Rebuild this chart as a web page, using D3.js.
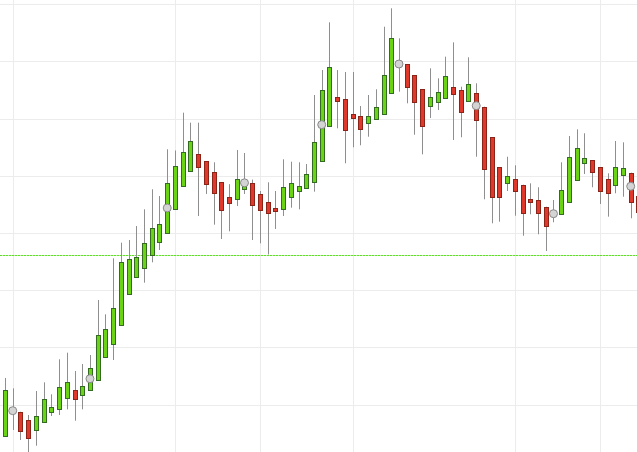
<!DOCTYPE html>
<html>
<head>
<meta charset="utf-8">
<script src="https://cdn.jsdelivr.net/npm/d3@7/dist/d3.min.js"></script>
<style>
  html, body { margin: 0; padding: 0; background: #ffffff; }
  svg { display: block; }
</style>
</head>
<body>
<svg id="chart" width="637" height="452"></svg>
<script>
// ---- data ----
const openV  = [94.55,98.78,98.74,97.29,95.67,96.89,98.74,99.16,101.09,102.54,101.66,102.42,104.37,108.22,110.70,113.78,119.32,122.24,123.99,126.14,128.46,129.93,134.18,138.03,140.96,143.71,142.52,140.60,138.85,136.33,135.93,137.64,138.67,136.72,135.41,134.41,134.18,136.16,137.33,137.85,139.02,142.52,148.81,153.81,153.46,150.74,150.39,149.22,149.86,150.91,154.41,159.70,159.48,157.56,155.16,152.07,152.94,153.64,155.56,154.99,153.03,154.41,152.07,146.72,141.52,138.85,139.43,138.43,135.93,135.75,134.58,133.13,133.26,135.41,139.25,142.17,142.70,141.47,139.43,138.26,140.00,140.53,136.45];
const highV  = [104.64,102.83,98.74,98.17,102.36,103.88,101.79,107.91,109.06,105.86,107.08,108.66,118.27,115.77,125.56,128.29,128.76,131.21,134.13,137.63,136.45,144.62,144.41,151.02,149.27,149.27,142.52,142.35,138.85,138.52,144.50,143.97,139.32,137.33,138.85,137.33,142.87,142.45,142.35,142.05,154.11,158.48,166.82,158.48,158.13,158.13,152.19,154.11,155.11,166.05,169.27,164.02,159.48,157.56,155.16,158.78,157.03,160.81,163.32,155.56,160.70,156.16,152.07,146.72,141.52,143.32,141.82,138.43,138.67,137.98,134.58,135.75,142.35,146.94,148.11,147.42,142.70,141.47,140.42,146.07,145.84,140.53,136.45];
const lowV   = [94.50,95.55,93.80,91.17,92.80,96.89,97.99,98.17,99.16,97.17,99.16,102.42,104.37,108.22,107.78,113.78,119.32,122.24,121.30,124.86,127.01,129.93,134.18,138.03,140.96,132.96,136.80,131.44,128.94,130.28,134.71,136.80,128.76,128.18,126.23,130.69,132.96,134.41,134.13,137.85,137.21,142.52,148.81,148.29,142.17,144.97,145.32,146.82,149.86,150.91,154.41,154.69,152.66,147.17,143.74,150.09,151.49,153.64,146.24,146.72,153.03,143.32,135.88,131.68,131.96,137.33,133.01,129.51,133.26,129.76,126.84,131.86,133.26,135.41,139.25,140.30,137.98,135.06,132.84,136.93,136.33,132.56,131.38];
const closeV = [102.54,98.95,95.42,94.20,98.04,100.96,99.62,103.01,103.88,100.91,103.24,106.33,112.15,113.20,116.93,124.83,125.41,125.79,128.29,130.81,131.56,138.67,141.73,144.06,146.12,141.47,138.43,136.89,134.01,135.35,139.39,139.46,134.76,134.01,133.43,133.95,138.08,138.67,138.26,140.25,145.95,154.99,159.06,153.06,148.11,150.04,148.11,150.39,151.96,157.66,164.02,159.40,155.46,152.84,148.74,153.71,154.64,157.49,154.41,151.23,155.98,149.74,141.30,136.16,136.33,140.00,137.33,133.60,135.35,133.43,131.21,133.48,137.50,143.27,144.79,143.05,140.53,137.33,136.93,141.47,141.30,135.53,133.66];

// circle markers: candle index and value
const markerIdx = [1, 11, 21, 31, 41, 51, 61, 71, 81];
const markerVal = [98.92, 104.51, 134.36, 138.76, 148.92, 159.53, 152.24, 133.36, 138.15];

// horizontal grid levels and vertical grid positions (candle index)
const yGridLevels = [100, 110, 120, 130, 140, 150, 160, 170];
const xGridIdx = [1, 22, 33, 45, 66, 77];

// reference level (dashed green line)
const refLevel = [126.14];

// ---- drawing ----
const W = 637, H = 452;
const svg = d3.select("#chart");
const n = openV.length;
const candles = d3.range(n).map(i => ({ i, o: openV[i], h: highV[i], l: lowV[i], c: closeV[i] }));

const x = d3.scaleLinear().domain([0, n - 1]).range([5, 5 + 7.725 * (n - 1)]);
const y = d3.scaleLinear().domain([91.70, 170.72]).range([H, 0]);

const bodyW = 4;

// grid
const grid = svg.append("g");
grid.selectAll("line.h").data(yGridLevels).join("line")
  .attr("x1", 0).attr("x2", W)
  .attr("y1", d => Math.round(y(d)) + 0.5).attr("y2", d => Math.round(y(d)) + 0.5)
  .attr("stroke", "#ececec").attr("stroke-width", 1);
grid.selectAll("line.v").data(xGridIdx).join("line")
  .attr("y1", 0).attr("y2", H)
  .attr("x1", d => Math.round(x(d)) + 0.5).attr("x2", d => Math.round(x(d)) + 0.5)
  .attr("stroke", "#ececec").attr("stroke-width", 1);

// reference dashed line (light green base + green dashes)
const ref = svg.append("g");
ref.selectAll("line.base").data(refLevel).join("line")
  .attr("class", "base")
  .attr("x1", 0).attr("x2", W)
  .attr("y1", d => Math.round(y(d)) + 0.5).attr("y2", d => Math.round(y(d)) + 0.5)
  .attr("stroke", "#bdf0a0").attr("stroke-width", 1)
  .attr("shape-rendering", "crispEdges");
ref.selectAll("line.dash").data(refLevel).join("line")
  .attr("class", "dash")
  .attr("x1", 0).attr("x2", W)
  .attr("y1", d => Math.round(y(d)) + 0.5).attr("y2", d => Math.round(y(d)) + 0.5)
  .attr("stroke", "#62dc2c").attr("stroke-width", 1)
  .attr("stroke-dasharray", "2,1")
  .attr("shape-rendering", "crispEdges");

// wicks
svg.append("g").selectAll("line").data(candles).join("line")
  .attr("x1", d => Math.round(x(d.i)) + 0.5).attr("x2", d => Math.round(x(d.i)) + 0.5)
  .attr("y1", d => y(d.h)).attr("y2", d => y(d.l))
  .attr("stroke", "#8f8f8f").attr("stroke-width", 1);

// bodies
svg.append("g").selectAll("rect").data(candles).join("rect")
  .attr("x", d => Math.round(x(d.i)) - bodyW / 2 + 0.5)
  .attr("y", d => Math.round(y(Math.max(d.o, d.c))) + 0.5)
  .attr("width", bodyW)
  .attr("height", d => Math.max(1, Math.round(Math.abs(y(d.o) - y(d.c)))))
  .attr("fill", d => d.c >= d.o ? "#6ad414" : "#e0392b")
  .attr("stroke", d => d.c >= d.o ? "#336b22" : "#8a2418")
  .attr("stroke-width", 1);

// markers
svg.append("g").selectAll("circle").data(markerIdx.map((k, j) => ({ k, v: markerVal[j] }))).join("circle")
  .attr("cx", d => x(d.k)).attr("cy", d => y(d.v))
  .attr("r", 4)
  .attr("fill", "#d4d4d4").attr("stroke", "#888888").attr("stroke-width", 1);
</script>
</body>
</html>
